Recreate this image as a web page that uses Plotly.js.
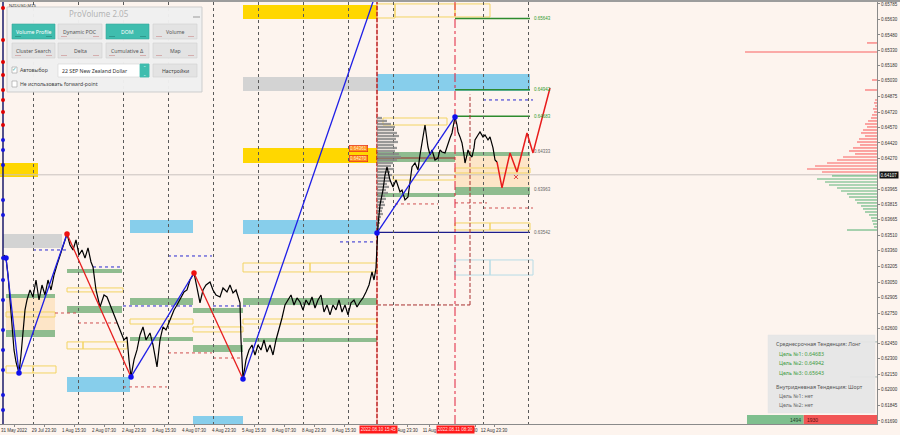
<!DOCTYPE html>
<html><head><meta charset="utf-8">
<script src="https://cdn.plot.ly/plotly-3.0.1.min.js"></script>
<style>html,body{margin:0;padding:0;background:#fdf4ee;}#chart{width:900px;height:435px;}</style>
</head><body><div id="chart"></div>
<script>
// ---------------- DATA ----------------
const priceX = [4,6,8,10,12,14,16,19,21,23,25,27,30,33,36,39,42,45,48,51,54,57,60,63,65,67,70,73,76,79,82,85,88,91,93,96,100,104,107,110,113,116,120,124,127,129,131,134,137,140,143,146,150,153,155,157,160,163,166,170,174,177,180,184,187,190,194,197,200,203,206,210,213,216,220,223,227,230,233,236,240,241,243,246,249,252,255,258,261,264,267,270,273,276,279,282,285,288,291,294,297,300,303,306,309,312,315,318,321,324,327,330,333,336,339,342,345,348,351,354,357,360,363,366,369,372,374,376,378,380,383,385,387,390,393,396,398,400,402,405,408,410,412,415,418,420,422,424,425,427,428,430,432,435,438,440,442,445,448,450,452,455,457,458,460,462,464,465,467,468,470,472,474,475,478,480,483,485,488,490,493,495,497];
const priceY = [0.63320,0.63290,0.63123,0.62878,0.62583,0.62387,0.62269,0.62161,0.62338,0.62583,0.62780,0.62878,0.62976,0.62907,0.63074,0.62878,0.63025,0.62927,0.63074,0.62976,0.63123,0.63222,0.63320,0.63418,0.63467,0.63526,0.63418,0.63369,0.63467,0.63320,0.63369,0.63290,0.63389,0.63251,0.63202,0.62976,0.62809,0.62927,0.62907,0.62829,0.62750,0.62682,0.62583,0.62485,0.62515,0.62289,0.62122,0.62289,0.62387,0.62534,0.62613,0.62485,0.62554,0.62436,0.62338,0.62220,0.62485,0.62613,0.62583,0.62682,0.62780,0.62829,0.62878,0.62957,0.62976,0.63074,0.63143,0.62976,0.62849,0.62976,0.63025,0.63055,0.62976,0.62927,0.62907,0.62996,0.62957,0.63025,0.62947,0.62976,0.62849,0.62485,0.62102,0.62289,0.62387,0.62436,0.62338,0.62436,0.62387,0.62485,0.62367,0.62436,0.62338,0.62485,0.62583,0.62701,0.62829,0.62878,0.62927,0.62829,0.62898,0.62858,0.62780,0.62878,0.62829,0.62907,0.62799,0.62878,0.62927,0.62760,0.62829,0.62731,0.62829,0.62780,0.62878,0.62760,0.62829,0.62731,0.62849,0.62878,0.62809,0.62858,0.62898,0.62957,0.63025,0.63153,0.63074,0.63192,0.63614,0.63811,0.63958,0.64105,0.64184,0.64056,0.63988,0.64056,0.64007,0.63939,0.63958,0.63860,0.63889,0.64056,0.64184,0.64223,0.64155,0.64302,0.64420,0.64547,0.64596,0.64449,0.64380,0.64302,0.64351,0.64253,0.64272,0.64351,0.64331,0.64322,0.64420,0.64469,0.64518,0.64675,0.64596,0.64528,0.64479,0.64420,0.64302,0.64223,0.64302,0.64351,0.64302,0.64282,0.64371,0.64449,0.64498,0.64528,0.64479,0.64498,0.64449,0.64479,0.64371,0.64253,0.64233];

const zzBlueX = [6,19,67,null,131,194,null,243,375,null,377,455];
const zzBlueY = [0.63290,0.62161,0.63526,null,0.62122,0.63143,null,0.62102,0.65863,null,0.63536,0.64675];
const zzRedX = [67,131,null,194,243];
const zzRedY = [0.63526,0.62122,null,0.63143,0.62102];
const pivotBlueX = [6,19,131,243,377,455];
const pivotBlueY = [0.63290,0.62161,0.62122,0.62102,0.63536,0.64675];
const pivotRedX = [67,194];
const pivotRedY = [0.63526,0.63143];
const forecastX = [497,502,510,517,527,533,550];
const forecastY = [0.64233,0.63978,0.64322,0.64135,0.64518,0.64322,0.64960];

const histDotsRedY = [0.65745,0.65431,0.65215,0.65088,0.64940,0.64842,0.64724,0.64596];
const histDotsBlueY = [0.64449,0.64351,0.64204,0.63860,0.63713,0.63290,0.63074,0.62878,0.62583,0.62387,0.62191,0.61945,0.61798];

// volume profile of the session (grey), from the session start line
const vpPrices = [0.64665,0.64636,0.64606,0.64577,0.64547,0.64518,0.64488,0.64459,0.64429,0.64400,0.64371,0.64341,0.64312,0.64282,0.64253,0.64223,0.64194,0.64164,0.64135,0.64105,0.64076,0.64047,0.64017,0.63988,0.63958,0.63929,0.63899,0.63870,0.63840,0.63811,0.63781,0.63752,0.63722,0.63693,0.63664,0.63634,0.63605,0.63575];
const vpVolumes = [5,10,14,18,16,20,22,19,21,17,20,18,22,24,20,16,14,17,13,15,12,14,10,12,9,11,8,9,7,8,6,5,6,4,3,3,2,2];

// DOM profile at right edge
const domAskPrices = [0.65402,0.65313,0.65038,0.64940,0.64842,0.64813,0.64783,0.64754,0.64724,0.64695,0.64665,0.64636,0.64606,0.64577,0.64547,0.64518,0.64488,0.64459,0.64429,0.64400,0.64371,0.64341,0.64312,0.64282,0.64253,0.64223,0.64194,0.64164,0.64135];
const domAskSizes  = [10,132,5,12,2,3,2,4,3,5,6,9,12,10,14,16,12,18,20,17,24,28,22,34,40,50,62,70,55];
const domBidPrices = [0.64096,0.64066,0.64037,0.64007,0.63978,0.63948,0.63919,0.63889,0.63860,0.63831,0.63801,0.63772,0.63742,0.63713,0.63683,0.63654,0.63624,0.63595,0.63565];
const domBidSizes  = [45,60,52,48,40,36,30,28,22,20,16,14,12,8,6,5,4,3,30];

const buyVolume = 1494, sellVolume = 1930;
const currentPrice = 0.64107;
const targetsLong = [0.64683, 0.64942, 0.65643];
const levelLabels = [0.64333, 0.63963, 0.63542];
const pocLabels = [0.64361, 0.64270];

const yTickVals = [0.65785,0.65630,0.65480,0.65330,0.65180,0.65030,0.64875,0.64720,0.64570,0.64420,0.64270,0.63965,0.63815,0.63665,0.63510,0.63360,0.63205,0.63050,0.62905,0.62750,0.62600,0.62450,0.62300,0.62150,0.62000,0.61845,0.61690];
const xTickVals = [14,44,74,104,134,164,194,224,254,284,314,344,407.5,429.5,475,494];
const xTickText = ["31 May 2022","29 Jul 23:30","1 Aug 15:30","2 Aug 07:30","2 Aug 23:30","3 Aug 15:30","4 Aug 07:30","4 Aug 23:30","5 Aug 15:30","8 Aug 07:30","8 Aug 23:30","9 Aug 15:30","Aug 23:30","11 Aug","30","12 Aug 23:30"];
const gridX = [33,78,123,168,213,258,303,348,393,438,483,528];
const sessionMarks = [[378,'2022.08.10 15:45'],[455,'2022.08.11 08:30']];

// zones [x0, x1, priceLow, priceHigh]
const goldZones = [[0,38,0.64086,0.64224],[243,377,0.65637,0.65775],[243,377,0.64223,0.64371]];
const grayZones = [[3,62,0.63389,0.63526],[243,377,0.64930,0.65068]];
const blueZones = [[67,130,0.61975,0.62122],[130,193,0.63536,0.63664],[193,243,0.61600,0.61739],[243,377,0.63526,0.63664],[377,530,0.64930,0.65097]];
const greenZones = [[6,55,0.62898,0.62937],[6,55,0.62515,0.62583],[67,122,0.63143,0.63182],[67,122,0.62750,0.62819],[130,193,0.62829,0.62898],[130,193,0.62475,0.62515],[193,243,0.62750,0.62799],[193,243,0.62367,0.62436],[243,377,0.62829,0.62898],[243,377,0.62466,0.62505],[377,455,0.64233,0.64331],[455,530,0.64292,0.64331],[377,455,0.63889,0.63929],[455,530,0.63909,0.63988]];
const peachZones = [[6,55,0.62583,0.62898],[455,530,0.63978,0.64292]];
const yellowBoxes = [[6,33,0.62161,0.62230],[33,56,0.62161,0.62230],[6,55,0.62711,0.62760],[67,123,0.62957,0.62996],[67,83,0.62397,0.62466],[83,127,0.62397,0.62466],[130,193,0.62642,0.62691],[193,243,0.62564,0.62613],[243,377,0.62642,0.62691],[243,310,0.63153,0.63241],[310,377,0.63153,0.63241],[377,395,0.65647,0.65785],[395,455,0.65657,0.65785],[455,490,0.65657,0.65785],[393,455,0.64056,0.64105],[455,530,0.64125,0.64174],[455,490,0.63565,0.63634],[490,530,0.63565,0.63634],[383,447,0.64596,0.64665]];
const cyanBoxes = [[455,490,0.63123,0.63271],[490,533,0.63123,0.63271]];
const blueDotted = [[33,67,0.63369],[93,122,0.63202],[123,193,0.62819],[168,212,0.63310],[213,250,0.62819],[340,377,0.63448],[483,533,0.64842]];
const redDotted = [[55,77,0.62750],[78,117,0.62652],[123,167,0.62024],[168,212,0.62358],[213,243,0.62308],[395,438,0.63821],[455,487,0.63831],[483,533,0.63781]];

// ---------------- BUILD ----------------
const Y0 = 0.61660, Y1 = 0.65804, XR = 877;
const P = {x: v => v / XR, y: v => (424 - v) / 422};
const shapes = [], annotations = [];

function zone(z, fill, line, width) {
  shapes.push({type:'rect', xref:'x', yref:'y', x0:z[0], x1:z[1], y0:z[2], y1:z[3],
    fillcolor: fill || 'rgba(0,0,0,0)', line:{color: line || 'rgba(0,0,0,0)', width: line ? (width||1) : 0}, layer:'below'});
}
goldZones.forEach(z => zone(z, '#ffd700'));
grayZones.forEach(z => zone(z, '#d3d3d3'));
blueZones.forEach(z => zone(z, '#87ceeb'));
peachZones.forEach(z => zone(z, 'rgba(252,224,186,0.75)'));
greenZones.forEach(z => zone(z, '#8fbc8f'));
yellowBoxes.forEach(z => zone(z, null, '#f3d463', 1));
cyanBoxes.forEach(z => zone(z, null, '#b6dbe6', 1));

function hline(x0, x1, p, color, dash, w) {
  shapes.push({type:'line', xref:'x', yref:'y', x0:x0, x1:x1, y0:p, y1:p, line:{color:color, width:w||1, dash:dash||'solid'}, layer:'below'});
}
function vline(x, p0, p1, color, dash, w) {
  shapes.push({type:'line', xref:'x', yref:'y', x0:x, x1:x, y0:p0, y1:p1, line:{color:color, width:w||1, dash:dash||'solid'}, layer:'below'});
}
blueDotted.forEach(d => hline(d[0], d[1], d[2], '#2a2ad0', 'dot', 1));
redDotted.forEach(d => hline(d[0], d[1], d[2], '#d05050', 'dot', 1));
hline(0, XR, currentPrice, '#c9c2bf', 'solid', 1);
hline(377, 455, 0.64272, '#9b2a2a', 'solid', 1);
targetsLong.forEach(t => hline(455, 530, t, '#2e8b2e', 'solid', 1.5));
hline(377, 530, levelLabels[2], '#1c1c8c', 'solid', 1.2);
vline(377, Y0, Y1, '#ee3030', 'solid', 0.6);
vline(377, Y0, Y1, '#b01010', '4px,2px', 1.2);
vline(455, Y0, Y1, '#e0203c', 'dashdot', 1);
vline(470, 0.62829, 0.64895, '#a83030', '4px,2px', 1);
hline(377, 470, 0.62829, '#a83030', '4px,2px', 1);
hline(850, 877, 0.62466, '#9fb5b0', 'solid', 1);
hline(850, 877, 0.62122, '#9fb5b0', 'solid', 1);

// labels on levels
targetsLong.forEach(t => annotations.push({xref:'x', yref:'y', x:532, y:t, text:t.toFixed(5), showarrow:false, xanchor:'left', font:{family:'Liberation Sans, Arial', size:4.5, color:'#2e9a2e'}}));
levelLabels.forEach(t => annotations.push({xref:'x', yref:'y', x:532, y:t, text:t.toFixed(5), showarrow:false, xanchor:'left', font:{family:'Liberation Sans, Arial', size:4.5, color:'#666'}}));
pocLabels.forEach(t => annotations.push({xref:'x', yref:'y', x:349, y:t, text:t.toFixed(5), showarrow:false, xanchor:'left', bgcolor:'#ff8c1a', bordercolor:'#e02020', borderwidth:0.6, borderpad:0.5, font:{family:'Liberation Sans, Arial', size:4.5, color:'#fff2d0'}}));

// current price box on axis
annotations.push({xref:'paper', yref:'y', x:1.0025, y:currentPrice, text:currentPrice.toFixed(5), showarrow:false, xanchor:'left', bgcolor:'#111', borderpad:0.6, font:{family:'Liberation Sans, Arial', size:4.5, color:'#fff'}});
// time markers on x axis
sessionMarks.forEach(m => annotations.push({xref:'x', yref:'paper', x:m[0], y:P.y(429.5), text:m[1], showarrow:false, xanchor:'center', yanchor:'middle', bgcolor:'#ff1a1a', borderpad:0.8, font:{family:'Liberation Sans, Arial', size:4.5, color:'#ffe0e0'}}));

// ---------- overlay widgets ----------
function box(x0, y0, x1, y1, fill, line, lw) {
  shapes.push({type:'rect', xref:'paper', yref:'paper', x0:P.x(x0), x1:P.x(x1), y0:P.y(y1), y1:P.y(y0), fillcolor:fill, line:{color:line||fill, width:line?(lw||0.8):0}, layer:'above'});
}
function seg(x0, y0, x1, y1, color, w) {
  shapes.push({type:'line', xref:'paper', yref:'paper', x0:P.x(x0), x1:P.x(x1), y0:P.y(y0), y1:P.y(y1), line:{color:color, width:w||1}, layer:'above'});
}
function txt(x, y, t, size, color, anchor, fam) {
  annotations.push({xref:'paper', yref:'paper', x:P.x(x), y:P.y(y), text:t, showarrow:false, xanchor:anchor||'left', yanchor:'middle', borderpad:0, font:{family:fam||'Noto Sans, sans-serif', size:size, color:color}});
}
// top border
shapes.push({type:'rect', xref:'paper', yref:'paper', x0:0, x1:900/XR, y0:1, y1:1+2/422, fillcolor:'#9c9c9c', line:{width:0}, layer:'above'});
txt(8, 5, 'NZDUSD,M15', 4.2, '#333', 'left', 'Liberation Sans, Arial');

// ProVolume panel
box(7, 7, 202, 92, 'rgba(240,240,240,0.97)', '#cdcdcd', 1);
txt(99, 14, 'ProVolume 2.05', 8, '#b4b4b4', 'center');
seg(193, 17, 200, 17, '#9a9a9a', 1);
const teal = '#3fbdae', btnGray = '#e3e3e3';
const buttons = [
  [12,55,24,39,teal,'Volume Profile','#ffffff'],[58,102,24,39,btnGray,'Dynamic POC','#555'],
  [106,149,24,39,teal,'DOM','#ffffff'],[153,197,24,39,btnGray,'Volume','#555'],
  [12,55,43,58,btnGray,'Cluster Search','#555'],[58,102,43,58,btnGray,'Delta','#555'],
  [106,149,43,58,btnGray,'Cumulative Δ','#555'],[153,197,43,58,btnGray,'Map','#555']];
buttons.forEach(b => {
  box(b[0], b[2], b[1], b[3], b[4], b[4]===teal ? '#36a99b' : '#d2d2d2', 0.6);
  txt((b[0]+b[1])/2, b[2]+8, b[5], 5.2, b[6], 'center');
  seg(b[0]+3, b[3]-2.5, b[0]+9, b[3]-2.5, b[4]===teal ? '#2c8f84' : '#d0a0a0', 0.8);
  seg(b[1]-9, b[3]-2.5, b[1]-3, b[3]-2.5, b[4]===teal ? '#2c8f84' : '#d0a0a0', 0.8);
});
box(12, 67, 17, 73, '#ffffff', '#9a9a9a', 0.6);
txt(14.5, 69.5, '✓', 5.5, '#2aa79a', 'center', 'DejaVu Sans');
txt(19, 70, 'Автовыбор', 5.2, '#444');
box(58, 64, 149, 77, '#ffffff', '#d4d4d4', 0.6);
box(140, 64, 149, 77, teal, teal);
txt(144.5, 68, '⌃', 4, '#e8ffff', 'center', 'DejaVu Sans');
txt(144.5, 74, '⌄', 4, '#e8ffff', 'center', 'DejaVu Sans');
txt(61, 70.5, '22 SEP New Zealand Dollar', 5.2, '#333');
box(153, 64, 197, 77, btnGray, '#d2d2d2', 0.6);
txt(175, 70.5, 'Настройки', 5.2, '#444', 'center');
box(12, 81, 17, 87, '#ffffff', '#9a9a9a', 0.6);
txt(19, 84, 'Не использовать forward-point', 5.2, '#444');

// Trend info box
box(768, 335, 875, 413, 'rgba(230,230,230,0.95)', 'rgba(230,230,230,0.95)', 0.5);
txt(775, 344, 'Среднесрочная Тенденция: Лонг', 5.3, '#555');
targetsLong.forEach((t, i) => txt(778, 354 + i*9.3, 'Цель №' + (i+1) + ': ' + t.toFixed(5), 5.3, '#3c9a3c'));
txt(775, 387, 'Внутридневная Тенденция: Шорт', 5.3, '#555');
txt(778, 396, 'Цель №1: нет', 5.3, '#666');
txt(778, 405, 'Цель №2: нет', 5.3, '#666');

// bottom buy/sell bar
const barLen = 130, barStart = 747;
const buyLen = barLen * buyVolume / (buyVolume + sellVolume);
const barPrice = 0.61704;
annotations.push({xref:'x', yref:'y', x:barStart + buyLen - 1, y:barPrice, text:String(buyVolume), showarrow:false, xanchor:'right', font:{family:'Liberation Sans, Arial', size:5, color:'#1f3f2a'}});
annotations.push({xref:'x', yref:'y', x:barStart + buyLen + 1, y:barPrice, text:String(sellVolume), showarrow:false, xanchor:'left', font:{family:'Liberation Sans, Arial', size:5, color:'#5a0d0d'}});

// ---------------- TRACES ----------------
const noHover = {hoverinfo:'skip'};
const traces = [
  Object.assign({type:'bar', orientation:'h', y:vpPrices, x:vpVolumes, base:377, width:0.00022, marker:{color:'rgba(135,135,135,0.85)', line:{width:0}}}, noHover),
  Object.assign({type:'bar', orientation:'h', y:domAskPrices, x:domAskSizes.map(v => -v), base:XR, width:0.00016, marker:{color:'rgba(250,120,120,0.8)', line:{width:0}}}, noHover),
  Object.assign({type:'bar', orientation:'h', y:domBidPrices, x:domBidSizes.map(v => -v), base:XR, width:0.00016, marker:{color:'rgba(120,190,140,0.8)', line:{width:0}}}, noHover),
  Object.assign({type:'bar', orientation:'h', y:[barPrice], x:[buyLen], base:barStart, width:0.00088, marker:{color:'#7fbf8e', line:{width:0}}}, noHover),
  Object.assign({type:'bar', orientation:'h', y:[barPrice], x:[barLen - buyLen], base:barStart + buyLen, width:0.00088, marker:{color:'#f25555', line:{width:0}}}, noHover),
  Object.assign({type:'scatter', mode:'lines', x:[3,3], y:[Y0, Y1], line:{color:'#1a1a6a', width:1.5}}, noHover),
  Object.assign({type:'scatter', mode:'markers', x:histDotsRedY.map(() => 3), y:histDotsRedY, marker:{color:'#e00000', size:4}}, noHover),
  Object.assign({type:'scatter', mode:'markers', x:histDotsBlueY.map(() => 3), y:histDotsBlueY, marker:{color:'#1515e0', size:4}}, noHover),
  Object.assign({type:'scatter', mode:'lines', x:priceX, y:priceY, line:{color:'#000000', width:1.2}}, noHover),
  Object.assign({type:'scatter', mode:'lines', x:zzBlueX, y:zzBlueY, connectgaps:false, line:{color:'#1e1ee6', width:1.3}}, noHover),
  Object.assign({type:'scatter', mode:'lines', x:zzRedX, y:zzRedY, connectgaps:false, line:{color:'#e61e1e', width:1.3}}, noHover),
  Object.assign({type:'scatter', mode:'lines', x:forecastX, y:forecastY, line:{color:'#e81b1b', width:1.5}}, noHover),
  Object.assign({type:'scatter', mode:'markers', x:pivotBlueX, y:pivotBlueY, marker:{color:'#1010ee', size:5.5}}, noHover),
  Object.assign({type:'scatter', mode:'markers', x:pivotRedX, y:pivotRedY, marker:{color:'#ee1010', size:5.5}}, noHover),
  Object.assign({type:'scatter', mode:'markers', x:[516], y:[0.64086], marker:{color:'#e04040', size:4, symbol:'x-thin', line:{color:'#e04040', width:1}}}, noHover),
  Object.assign({type:'scatter', mode:'markers', x:[533], y:[0.64253], marker:{color:'rgba(0,0,0,0)', size:4.5, symbol:'circle-open', line:{color:'#f08080', width:1}}}, noHover),
  Object.assign({type:'scatter', mode:'markers', x:[0], y:[Y0], xaxis:'x2', marker:{opacity:0}}, noHover)
];

const axisFont = {family:'Liberation Sans, Arial, sans-serif', size:4.5, color:'#333'};
const layout = {
  width:900, height:435, margin:{l:0, r:23, t:2, b:11, pad:0},
  paper_bgcolor:'#fdf4ee', plot_bgcolor:'#fdf4ee', showlegend:false, barmode:'overlay',
  xaxis:{range:[0, XR], tickmode:'array', tickvals:xTickVals, ticktext:xTickText, showgrid:false, zeroline:false,
    showline:true, linecolor:'#8a8a8a', linewidth:1, ticks:'outside', ticklen:2, tickcolor:'#8a8a8a', tickfont:axisFont, tickangle:0, fixedrange:true},
  xaxis2:{overlaying:'x', range:[0, XR], tickmode:'array', tickvals:gridX, showticklabels:false, showgrid:true, griddash:'dot',
    gridcolor:'#5a5a5a', gridwidth:1, zeroline:false, ticks:'', showline:false, fixedrange:true},
  yaxis:{range:[Y0, Y1], side:'right', tickmode:'array', tickvals:yTickVals, ticktext:yTickVals.map(v => v.toFixed(5)), showgrid:false,
    zeroline:false, showline:true, linecolor:'#8a8a8a', linewidth:1, ticks:'outside', ticklen:2, tickcolor:'#8a8a8a', tickfont:axisFont, fixedrange:true},
  shapes:shapes, annotations:annotations
};
Plotly.newPlot('chart', traces, layout, {staticPlot:true, displayModeBar:false});
</script></body></html>
